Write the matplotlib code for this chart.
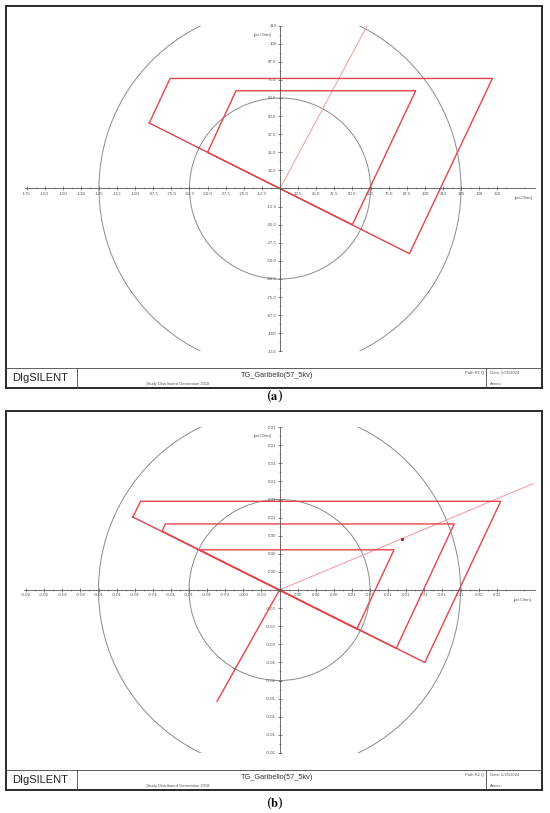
import matplotlib
matplotlib.use("Agg")
import matplotlib.pyplot as plt
from matplotlib.patches import Circle, Rectangle
from matplotlib.ticker import FixedLocator, FuncFormatter

plt.rcParams['font.family'] = ['Liberation Sans', 'DejaVu Sans']
plt.rcParams['mathtext.fontset'] = 'stix'

# ---- data, panel (a): R1 zone, pri.Ohm ----
step_a = 12.5
outer_a_x = [-90.3, -75.9, 146.7, 89.4]
outer_a_y = [45.2, 76.0, 76.0, -45.0]
inner_a_x = [-50.0, -30.4, 93.7, 50.0]
inner_a_y = [25.0, 67.5, 67.5, -25.0]
circles_a = [62.5, 125.0]
rca_a = (60.5, 113.0)
title_a = "TG_Garibello(57_5kv)"
path_a = "Path R1 Q"

# ---- data, panel (b): R2 zone, pri.Ohm ----
step_b = 0.0014
outer_b_x = [-0.01134, -0.01075, 0.01711, 0.01124]
outer_b_y = [0.00564, 0.00686, 0.00686, -0.00561]
mid_b_x = [-0.00907, -0.00883, 0.01351, 0.00903]
mid_b_y = [0.00455, 0.00511, 0.00511, -0.00451]
inner_b_x = [-0.00610, -0.00603, 0.00886, 0.00598]
inner_b_y = [0.00305, 0.00311, 0.00311, -0.00302]
circles_b = [0.007, 0.014]
rca_b = (0.0196, 0.00822)
rev_b = (-0.00483, -0.00861)
imp_b = (0.00946, 0.00396)
title_b = "TG_Garibello(57_5kv)"
path_b = "Path R2 Q"

study = "_Study Distributed Generation 2018"
date = "Date: 5/25/2024"

RED = "#e4444c"
PINK = "#f2a3aa"
GREY = "#8a8a8a"
W, H = 550, 813
PX = 18.1  # pixels per tick step


def fmt_a(v, pos=None):
    if abs(v) < 1e-9:
        return ""
    a = abs(v)
    s = str(int(a + 0.5)) if a >= 99.9 else "%.1f" % a
    return ("-" if v < 0 else "") + s


def fmt_b(v, pos=None):
    if abs(v) < 1e-12:
        return ""
    return "%.2f" % v


def draw_panel(fig, bg, org, frame, block_top, label_y, step, fmt, polys,
               radii, rca, title, path, letter, extra=None):
    ox, oy = org
    left = ox - 14.1 * PX
    ax = fig.add_axes([left / W, 1 - (oy + 9 * PX) / H,
                       28.2 * PX / W, 18 * PX / H])
    ax.set_facecolor("none")
    ax.set_xlim(-14.1 * step, 14.1 * step)
    ax.set_ylim(-9 * step, 9 * step)

    for r in radii:
        ax.add_patch(Circle((0, 0), r, fill=False, ec=GREY, lw=0.7))
    ax.plot([0, rca[0]], [0, rca[1]], color=PINK, lw=0.8)
    for xs, ys in polys:
        ax.plot(xs + xs[:1], ys + ys[:1], color=RED, lw=1.0)
    if extra:
        extra(ax)

    for s in ("top", "right"):
        ax.spines[s].set_visible(False)
    ax.spines["left"].set_position(("data", 0))
    ax.spines["bottom"].set_position(("data", 0))
    for s in ("left", "bottom"):
        ax.spines[s].set_linewidth(0.6)
        ax.spines[s].set_color("#555555")

    ax.xaxis.set_major_locator(FixedLocator([k * step for k in range(-14, 13)]))
    ax.xaxis.set_minor_locator(FixedLocator([(k + 0.5) * step for k in range(-14, 14)]))
    ax.yaxis.set_major_locator(FixedLocator([k * step for k in range(-9, 10)]))
    ax.yaxis.set_minor_locator(FixedLocator([(k + 0.5) * step for k in range(-9, 9)]))
    ax.xaxis.set_major_formatter(FuncFormatter(fmt))
    ax.yaxis.set_major_formatter(FuncFormatter(fmt))
    ax.tick_params(which="major", direction="inout", length=3, width=0.5,
                   color="#555555", labelsize=3.2, labelcolor="#555555", pad=1)
    ax.tick_params(which="minor", direction="inout", length=1.8, width=0.4,
                   color="#777777")
    ax.text(-0.45 * step, 8.5 * step, "[pri.Ohm]", fontsize=3.2,
            color="#555555", ha="right", va="center")
    ax.text(13.45 * step, -0.55 * step, "[pri.Ohm]", fontsize=3.2,
            color="#555555", ha="center", va="center")

    # frame and title block
    x0, y0, x1, y1 = frame
    bg.add_patch(Rectangle((x0, y0), x1 - x0, y1 - y0, fill=False,
                           ec="#2a2a2a", lw=1.4))
    bg.plot([x0, x1], [block_top, block_top], color="#444444", lw=0.6)
    bg.plot([76.5, 76.5], [block_top, y1], color="#444444", lw=0.6)
    bg.plot([486, 486], [block_top, y1], color="#444444", lw=0.6)
    bg.text(40, (block_top + y1) / 2, "DIgSILENT", fontsize=8, ha="center",
            va="center", color="#222222")
    bg.text(277, block_top + 7, title, fontsize=5.3, ha="center",
            va="center", color="#333333")
    bg.text(144, y1 - 4.5, study, fontsize=3, ha="left", va="center",
            color="#555555")
    bg.text(484, block_top + 4.5, path, fontsize=3, ha="right", va="center",
            color="#555555")
    bg.text(490, block_top + 4.5, date, fontsize=3, ha="left", va="center",
            color="#555555")
    bg.text(490, y1 - 4.5, "Annex:", fontsize=3, ha="left", va="center",
            color="#555555")
    bg.text(275, label_y, r"($\mathbf{%s}$)" % letter, fontsize=9,
            ha="center", va="center", family="DejaVu Serif")
    return ax


def extra_b(ax):
    ax.plot([0, rev_b[0]], [0, rev_b[1]], color=RED, lw=1.0)
    ax.plot([imp_b[0]], [imp_b[1]], "s", color="#b02030", ms=1.2)
    ax.plot([0], [0], "s", color=RED, ms=1.5)


fig = plt.figure(figsize=(W / 100, H / 100), dpi=100)
bg = fig.add_axes([0, 0, 1, 1])
bg.set_xlim(0, W)
bg.set_ylim(H, 0)
bg.axis("off")

draw_panel(fig, bg, (280, 188.5), (6, 6, 542, 388), 368, 396, step_a, fmt_a,
           [(outer_a_x, outer_a_y), (inner_a_x, inner_a_y)],
           circles_a, rca_a, title_a, path_a, "a")
draw_panel(fig, bg, (279.5, 590), (6, 411, 542, 790), 770, 803, step_b, fmt_b,
           [(outer_b_x, outer_b_y), (mid_b_x, mid_b_y), (inner_b_x, inner_b_y)],
           circles_b, rca_b, title_b, path_b, "b", extra=extra_b)

fig.savefig("out.png", dpi=100)
